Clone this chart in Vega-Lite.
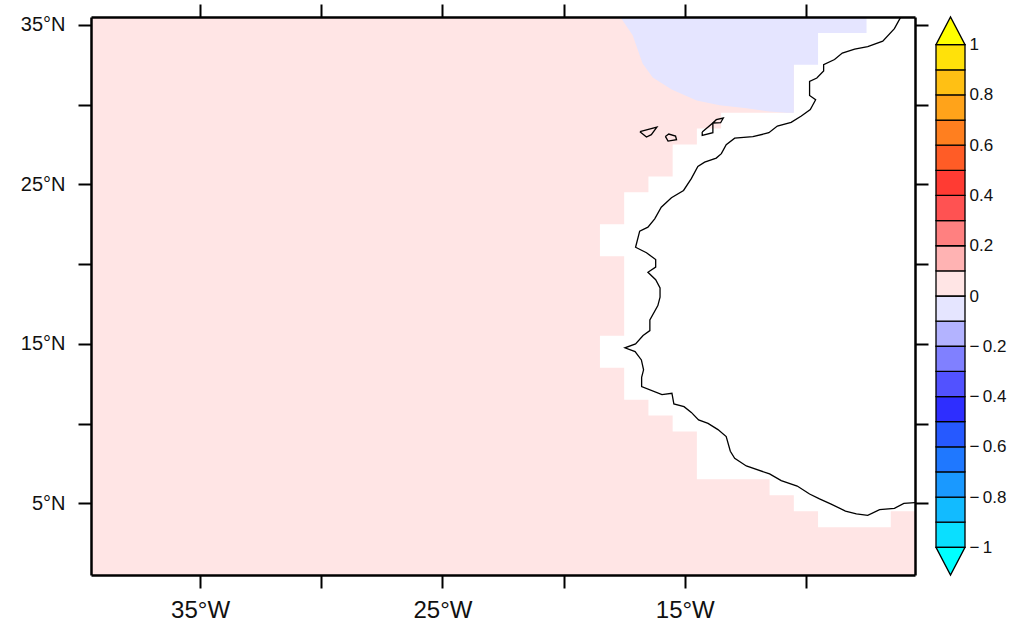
{"$schema":"https://vega.github.io/schema/vega-lite/v6.json","background":"white","padding":{"left":20,"top":3,"right":5,"bottom":5},"spacing":4,"resolve":{"scale":{"color":"shared"}},"config":{"view":{"stroke":null},"font":"Liberation Sans","axis":{"labelColor":"#111111","tickColor":"black","domainColor":"black"}},"datasets":{"positive":[{"lon":-10.5,"lat":35.5,"west":-39.5,"value":0.05},{"lon":-10.5,"lat":29.5,"west":-39.5,"value":0.05},{"lon":-13.5,"lat":29.5,"west":-39.5,"value":0.05},{"lon":-13.5,"lat":28.5,"west":-39.5,"value":0.05},{"lon":-14.5,"lat":28.5,"west":-39.5,"value":0.05},{"lon":-14.5,"lat":27.5,"west":-39.5,"value":0.05},{"lon":-15.5,"lat":27.5,"west":-39.5,"value":0.05},{"lon":-15.5,"lat":25.5,"west":-39.5,"value":0.05},{"lon":-16.5,"lat":25.5,"west":-39.5,"value":0.05},{"lon":-16.5,"lat":24.5,"west":-39.5,"value":0.05},{"lon":-17.5,"lat":24.5,"west":-39.5,"value":0.05},{"lon":-17.5,"lat":22.5,"west":-39.5,"value":0.05},{"lon":-18.5,"lat":22.5,"west":-39.5,"value":0.05},{"lon":-18.5,"lat":20.5,"west":-39.5,"value":0.05},{"lon":-17.5,"lat":20.5,"west":-39.5,"value":0.05},{"lon":-17.5,"lat":15.5,"west":-39.5,"value":0.05},{"lon":-18.5,"lat":15.5,"west":-39.5,"value":0.05},{"lon":-18.5,"lat":13.5,"west":-39.5,"value":0.05},{"lon":-17.5,"lat":13.5,"west":-39.5,"value":0.05},{"lon":-17.5,"lat":11.5,"west":-39.5,"value":0.05},{"lon":-16.5,"lat":11.5,"west":-39.5,"value":0.05},{"lon":-16.5,"lat":10.5,"west":-39.5,"value":0.05},{"lon":-15.5,"lat":10.5,"west":-39.5,"value":0.05},{"lon":-15.5,"lat":9.5,"west":-39.5,"value":0.05},{"lon":-14.5,"lat":9.5,"west":-39.5,"value":0.05},{"lon":-14.5,"lat":6.5,"west":-39.5,"value":0.05},{"lon":-11.5,"lat":6.5,"west":-39.5,"value":0.05},{"lon":-11.5,"lat":5.5,"west":-39.5,"value":0.05},{"lon":-10.5,"lat":5.5,"west":-39.5,"value":0.05},{"lon":-10.5,"lat":4.5,"west":-39.5,"value":0.05},{"lon":-9.5,"lat":4.5,"west":-39.5,"value":0.05},{"lon":-9.5,"lat":3.5,"west":-39.5,"value":0.05},{"lon":-5.5,"lat":3.5,"west":-39.5,"value":0.05},{"lon":-5.5,"lat":0.5,"west":-39.5,"value":0.05}],"notch":[{"lon0":-6.5,"lon1":-5.5,"lat0":3.2,"lat1":4.5,"value":0.05}],"negative":[{"lon":-17.66,"lat":35.5,"top":35.5,"value":-0.05},{"lon":-17.15,"lat":34.35,"top":35.5,"value":-0.05},{"lon":-16.74,"lat":32.59,"top":35.5,"value":-0.05},{"lon":-16.32,"lat":31.71,"top":35.5,"value":-0.05},{"lon":-15.54,"lat":30.96,"top":35.5,"value":-0.05},{"lon":-14.51,"lat":30.27,"top":35.5,"value":-0.05},{"lon":-13.56,"lat":29.96,"top":35.5,"value":-0.05},{"lon":-12.45,"lat":29.77,"top":35.5,"value":-0.05},{"lon":-11.5,"lat":29.58,"top":35.5,"value":-0.05},{"lon":-10.8,"lat":29.5,"top":35.5,"value":-0.05},{"lon":-10.5,"lat":29.5,"top":35.5,"value":-0.05},{"lon":-10.5,"lat":32.5,"top":35.5,"value":-0.05},{"lon":-9.5,"lat":32.5,"top":35.5,"value":-0.05},{"lon":-9.5,"lat":34.5,"top":35.5,"value":-0.05},{"lon":-7.5,"lat":34.5,"top":35.5,"value":-0.05},{"lon":-7.5,"lat":35.5,"top":35.5,"value":-0.05}],"coast":[{"s":"africa","i":1,"lon":-6.1,"lat":35.46},{"s":"africa","i":2,"lon":-6.35,"lat":34.77},{"s":"africa","i":3,"lon":-6.83,"lat":33.99},{"s":"africa","i":4,"lon":-7.45,"lat":33.64},{"s":"africa","i":5,"lon":-7.99,"lat":33.49},{"s":"africa","i":6,"lon":-8.5,"lat":33.24},{"s":"africa","i":7,"lon":-8.82,"lat":32.83},{"s":"africa","i":8,"lon":-9.27,"lat":32.51},{"s":"africa","i":9,"lon":-9.27,"lat":32.11},{"s":"africa","i":10,"lon":-9.55,"lat":31.67},{"s":"africa","i":11,"lon":-9.85,"lat":31.46},{"s":"africa","i":12,"lon":-9.85,"lat":30.58},{"s":"africa","i":13,"lon":-9.6,"lat":30.31},{"s":"africa","i":14,"lon":-9.82,"lat":29.69},{"s":"africa","i":15,"lon":-10.19,"lat":29.29},{"s":"africa","i":16,"lon":-10.61,"lat":28.89},{"s":"africa","i":17,"lon":-11.18,"lat":28.66},{"s":"africa","i":18,"lon":-11.53,"lat":28.24},{"s":"africa","i":19,"lon":-12.19,"lat":27.99},{"s":"africa","i":20,"lon":-12.94,"lat":27.9},{"s":"africa","i":21,"lon":-13.29,"lat":27.49},{"s":"africa","i":22,"lon":-13.49,"lat":26.93},{"s":"africa","i":23,"lon":-13.7,"lat":26.65},{"s":"africa","i":24,"lon":-14.18,"lat":26.4},{"s":"africa","i":25,"lon":-14.46,"lat":26.13},{"s":"africa","i":26,"lon":-14.73,"lat":25.36},{"s":"africa","i":27,"lon":-15.05,"lat":24.62},{"s":"africa","i":28,"lon":-15.55,"lat":24.16},{"s":"africa","i":29,"lon":-15.97,"lat":23.57},{"s":"africa","i":30,"lon":-16.24,"lat":22.84},{"s":"africa","i":31,"lon":-16.52,"lat":22.32},{"s":"africa","i":32,"lon":-16.86,"lat":22.07},{"s":"africa","i":33,"lon":-17.03,"lat":21.06},{"s":"africa","i":34,"lon":-16.58,"lat":20.71},{"s":"africa","i":35,"lon":-16.2,"lat":20.29},{"s":"africa","i":36,"lon":-16.2,"lat":19.81},{"s":"africa","i":37,"lon":-16.52,"lat":19.49},{"s":"africa","i":38,"lon":-16.2,"lat":19.02},{"s":"africa","i":39,"lon":-16.02,"lat":18.51},{"s":"africa","i":40,"lon":-16.02,"lat":17.92},{"s":"africa","i":41,"lon":-16.11,"lat":17.4},{"s":"africa","i":42,"lon":-16.44,"lat":16.5},{"s":"africa","i":43,"lon":-16.44,"lat":15.83},{"s":"africa","i":44,"lon":-16.72,"lat":15.52},{"s":"africa","i":45,"lon":-17.03,"lat":15.0},{"s":"africa","i":46,"lon":-17.47,"lat":14.75},{"s":"africa","i":47,"lon":-17.05,"lat":14.51},{"s":"africa","i":48,"lon":-16.79,"lat":13.99},{"s":"africa","i":49,"lon":-16.7,"lat":13.37},{"s":"africa","i":50,"lon":-16.78,"lat":12.9},{"s":"africa","i":51,"lon":-16.78,"lat":12.32},{"s":"africa","i":52,"lon":-15.94,"lat":11.82},{"s":"africa","i":53,"lon":-15.53,"lat":11.9},{"s":"africa","i":54,"lon":-15.45,"lat":11.23},{"s":"africa","i":55,"lon":-15.03,"lat":11.06},{"s":"africa","i":56,"lon":-14.73,"lat":10.7},{"s":"africa","i":57,"lon":-14.43,"lat":10.23},{"s":"africa","i":58,"lon":-14.04,"lat":10.01},{"s":"africa","i":59,"lon":-13.63,"lat":9.62},{"s":"africa","i":60,"lon":-13.29,"lat":9.18},{"s":"africa","i":61,"lon":-13.12,"lat":8.26},{"s":"africa","i":62,"lon":-12.94,"lat":7.82},{"s":"africa","i":63,"lon":-12.46,"lat":7.34},{"s":"africa","i":64,"lon":-11.5,"lat":6.84},{"s":"africa","i":65,"lon":-11.02,"lat":6.42},{"s":"africa","i":66,"lon":-10.36,"lat":6.08},{"s":"africa","i":67,"lon":-9.85,"lat":5.58},{"s":"africa","i":68,"lon":-9.44,"lat":5.27},{"s":"africa","i":69,"lon":-8.96,"lat":4.95},{"s":"africa","i":70,"lon":-8.37,"lat":4.51},{"s":"africa","i":71,"lon":-7.92,"lat":4.33},{"s":"africa","i":72,"lon":-7.45,"lat":4.24},{"s":"africa","i":73,"lon":-6.96,"lat":4.6},{"s":"africa","i":74,"lon":-6.35,"lat":4.68},{"s":"africa","i":75,"lon":-5.96,"lat":4.99},{"s":"africa","i":76,"lon":-5.5,"lat":5.04},{"s":"a","i":1,"lon":-16.85,"lat":28.31},{"s":"a","i":2,"lon":-16.15,"lat":28.59},{"s":"a","i":3,"lon":-16.38,"lat":28.12},{"s":"a","i":4,"lon":-16.58,"lat":27.97},{"s":"a","i":5,"lon":-16.85,"lat":28.31},{"s":"b","i":1,"lon":-15.8,"lat":28.01},{"s":"b","i":2,"lon":-15.66,"lat":28.16},{"s":"b","i":3,"lon":-15.38,"lat":28.03},{"s":"b","i":4,"lon":-15.34,"lat":27.8},{"s":"b","i":5,"lon":-15.69,"lat":27.72},{"s":"b","i":6,"lon":-15.8,"lat":28.01},{"s":"c","i":1,"lon":-14.28,"lat":28.28},{"s":"c","i":2,"lon":-13.84,"lat":28.85},{"s":"c","i":3,"lon":-13.84,"lat":28.24},{"s":"c","i":4,"lon":-14.28,"lat":28.07},{"s":"c","i":5,"lon":-14.28,"lat":28.28},{"s":"d","i":1,"lon":-13.84,"lat":28.85},{"s":"d","i":2,"lon":-13.7,"lat":29.06},{"s":"d","i":3,"lon":-13.41,"lat":29.16},{"s":"d","i":4,"lon":-13.52,"lat":28.87},{"s":"d","i":5,"lon":-13.84,"lat":28.85}],"bands":[{"lo":-1,"hi":-0.9,"mid":-0.95,"x0":0,"x1":1},{"lo":-0.9,"hi":-0.8,"mid":-0.85,"x0":0,"x1":1},{"lo":-0.8,"hi":-0.7,"mid":-0.75,"x0":0,"x1":1},{"lo":-0.7,"hi":-0.6,"mid":-0.65,"x0":0,"x1":1},{"lo":-0.6,"hi":-0.5,"mid":-0.55,"x0":0,"x1":1},{"lo":-0.5,"hi":-0.4,"mid":-0.45,"x0":0,"x1":1},{"lo":-0.4,"hi":-0.3,"mid":-0.35,"x0":0,"x1":1},{"lo":-0.3,"hi":-0.2,"mid":-0.25,"x0":0,"x1":1},{"lo":-0.2,"hi":-0.1,"mid":-0.15,"x0":0,"x1":1},{"lo":-0.1,"hi":0,"mid":-0.05,"x0":0,"x1":1},{"lo":0,"hi":0.1,"mid":0.05,"x0":0,"x1":1},{"lo":0.1,"hi":0.2,"mid":0.15,"x0":0,"x1":1},{"lo":0.2,"hi":0.3,"mid":0.25,"x0":0,"x1":1},{"lo":0.3,"hi":0.4,"mid":0.35,"x0":0,"x1":1},{"lo":0.4,"hi":0.5,"mid":0.45,"x0":0,"x1":1},{"lo":0.5,"hi":0.6,"mid":0.55,"x0":0,"x1":1},{"lo":0.6,"hi":0.7,"mid":0.65,"x0":0,"x1":1},{"lo":0.7,"hi":0.8,"mid":0.75,"x0":0,"x1":1},{"lo":0.8,"hi":0.9,"mid":0.85,"x0":0,"x1":1},{"lo":0.9,"hi":1,"mid":0.95,"x0":0,"x1":1}],"tips":[{"tip":"top","x":0,"y":1,"base":1,"mid":1.05},{"tip":"top","x":0.5,"y":1.11,"base":1,"mid":1.05},{"tip":"top","x":1,"y":1,"base":1,"mid":1.05},{"tip":"bottom","x":0,"y":-1,"base":-1,"mid":-1.05},{"tip":"bottom","x":0.5,"y":-1.11,"base":-1,"mid":-1.05},{"tip":"bottom","x":1,"y":-1,"base":-1,"mid":-1.05}]},"hconcat":[{"width":824,"height":558,"resolve":{"axis":{"x":"independent","y":"independent"}},"layer":[{"data":{"name":"positive"},"mark":{"type":"area","orient":"horizontal"},"encoding":{"x":{"field":"lon","type":"quantitative","scale":{"domain":[-39.5,-5.5],"nice":false,"zero":false},"axis":{"orient":"bottom","title":null,"values":[-35,-30,-25,-20,-15,-10],"labelExpr":"abs(datum.value)%10==5?abs(datum.value)+'°W':''","labelFontSize":24,"labelPadding":10,"labelOverlap":false,"labelFlush":false,"labelBound":false,"grid":false,"tickSize":13,"tickWidth":2,"domainWidth":2.5,"zindex":2}},"x2":{"field":"west"},"y":{"field":"lat","type":"quantitative","scale":{"domain":[0.5,35.5],"nice":false,"zero":false},"axis":{"orient":"left","title":null,"values":[5,10,15,20,25,30,35],"labelExpr":"datum.value%10==5?datum.value+'°N':''","labelFontSize":20,"labelPadding":13,"labelOverlap":false,"labelBound":false,"grid":false,"tickSize":13,"tickWidth":2,"domainWidth":2.5,"zindex":2}},"color":{"field":"value","type":"quantitative","legend":null,"scale":{"type":"threshold","domain":[-1,-0.9,-0.8,-0.7,-0.6,-0.5,-0.4,-0.3,-0.2,-0.1,0,0.1,0.2,0.3,0.4,0.5,0.6,0.7,0.8,0.9,1],"range":["#00FFFF","#0ADFFF","#12BBFF","#1A99FF","#1F78FF","#2659FF","#2E2EFF","#5252FF","#8080FF","#B3B3FF","#E5E5FF","#FFE5E5","#FFB3B3","#FF8080","#FF5252","#FF3B33","#FF5C26","#FF7F1F","#FFA31A","#FFC014","#FFE10A","#FFFF00"]}}}},{"data":{"name":"notch"},"mark":{"type":"rect"},"encoding":{"x":{"field":"lon0","type":"quantitative","axis":null},"x2":{"field":"lon1"},"y":{"field":"lat0","type":"quantitative","axis":null},"y2":{"field":"lat1"},"color":{"field":"value","type":"quantitative","legend":null,"scale":{"type":"threshold","domain":[-1,-0.9,-0.8,-0.7,-0.6,-0.5,-0.4,-0.3,-0.2,-0.1,0,0.1,0.2,0.3,0.4,0.5,0.6,0.7,0.8,0.9,1],"range":["#00FFFF","#0ADFFF","#12BBFF","#1A99FF","#1F78FF","#2659FF","#2E2EFF","#5252FF","#8080FF","#B3B3FF","#E5E5FF","#FFE5E5","#FFB3B3","#FF8080","#FF5252","#FF3B33","#FF5C26","#FF7F1F","#FFA31A","#FFC014","#FFE10A","#FFFF00"]}}}},{"data":{"name":"negative"},"mark":{"type":"area","orient":"vertical"},"encoding":{"x":{"field":"lon","type":"quantitative","axis":{"orient":"top","title":null,"values":[-35,-30,-25,-20,-15,-10],"labels":false,"grid":false,"tickSize":13,"tickWidth":2,"domainWidth":2.5,"zindex":2}},"y":{"field":"lat","type":"quantitative","axis":{"orient":"right","title":null,"values":[5,10,15,20,25,30,35],"labels":false,"grid":false,"tickSize":13,"tickWidth":2,"domainWidth":2.5,"zindex":2}},"y2":{"field":"top"},"color":{"field":"value","type":"quantitative","legend":null,"scale":{"type":"threshold","domain":[-1,-0.9,-0.8,-0.7,-0.6,-0.5,-0.4,-0.3,-0.2,-0.1,0,0.1,0.2,0.3,0.4,0.5,0.6,0.7,0.8,0.9,1],"range":["#00FFFF","#0ADFFF","#12BBFF","#1A99FF","#1F78FF","#2659FF","#2E2EFF","#5252FF","#8080FF","#B3B3FF","#E5E5FF","#FFE5E5","#FFB3B3","#FF8080","#FF5252","#FF3B33","#FF5C26","#FF7F1F","#FFA31A","#FFC014","#FFE10A","#FFFF00"]}}}},{"data":{"name":"coast"},"mark":{"type":"line","color":"black","strokeWidth":1.3},"encoding":{"x":{"field":"lon","type":"quantitative","axis":null},"y":{"field":"lat","type":"quantitative","axis":null},"detail":{"field":"s"},"order":{"field":"i","type":"quantitative"}}}]},{"width":29,"height":558,"layer":[{"data":{"name":"bands"},"mark":{"type":"rect","stroke":"black","strokeWidth":1.3},"encoding":{"x":{"field":"x0","type":"quantitative","scale":{"domain":[0,1],"nice":false,"zero":false},"axis":null},"x2":{"field":"x1"},"y":{"field":"lo","type":"quantitative","scale":{"domain":[-1.11,1.11],"nice":false,"zero":false},"axis":{"orient":"right","title":null,"values":[-1,-0.8,-0.6,-0.4,-0.2,0,0.2,0.4,0.6,0.8,1],"labelExpr":"datum.value<0?'−\u2009'+format(-datum.value,'.2~f'):'\u2009'+format(datum.value,'.2~f')","labelFontSize":17,"labelPadding":4,"labelOverlap":false,"labelBound":false,"ticks":false,"domain":false,"grid":false}},"y2":{"field":"hi"},"color":{"field":"mid","type":"quantitative","legend":null,"scale":{"type":"threshold","domain":[-1,-0.9,-0.8,-0.7,-0.6,-0.5,-0.4,-0.3,-0.2,-0.1,0,0.1,0.2,0.3,0.4,0.5,0.6,0.7,0.8,0.9,1],"range":["#00FFFF","#0ADFFF","#12BBFF","#1A99FF","#1F78FF","#2659FF","#2E2EFF","#5252FF","#8080FF","#B3B3FF","#E5E5FF","#FFE5E5","#FFB3B3","#FF8080","#FF5252","#FF3B33","#FF5C26","#FF7F1F","#FFA31A","#FFC014","#FFE10A","#FFFF00"]}}}},{"data":{"name":"tips"},"mark":{"type":"area","stroke":"black","strokeWidth":1.3},"encoding":{"x":{"field":"x","type":"quantitative"},"y":{"field":"y","type":"quantitative"},"y2":{"field":"base"},"detail":{"field":"tip"},"color":{"field":"mid","type":"quantitative","legend":null,"scale":{"type":"threshold","domain":[-1,-0.9,-0.8,-0.7,-0.6,-0.5,-0.4,-0.3,-0.2,-0.1,0,0.1,0.2,0.3,0.4,0.5,0.6,0.7,0.8,0.9,1],"range":["#00FFFF","#0ADFFF","#12BBFF","#1A99FF","#1F78FF","#2659FF","#2E2EFF","#5252FF","#8080FF","#B3B3FF","#E5E5FF","#FFE5E5","#FFB3B3","#FF8080","#FF5252","#FF3B33","#FF5C26","#FF7F1F","#FFA31A","#FFC014","#FFE10A","#FFFF00"]}}}}]}]}
